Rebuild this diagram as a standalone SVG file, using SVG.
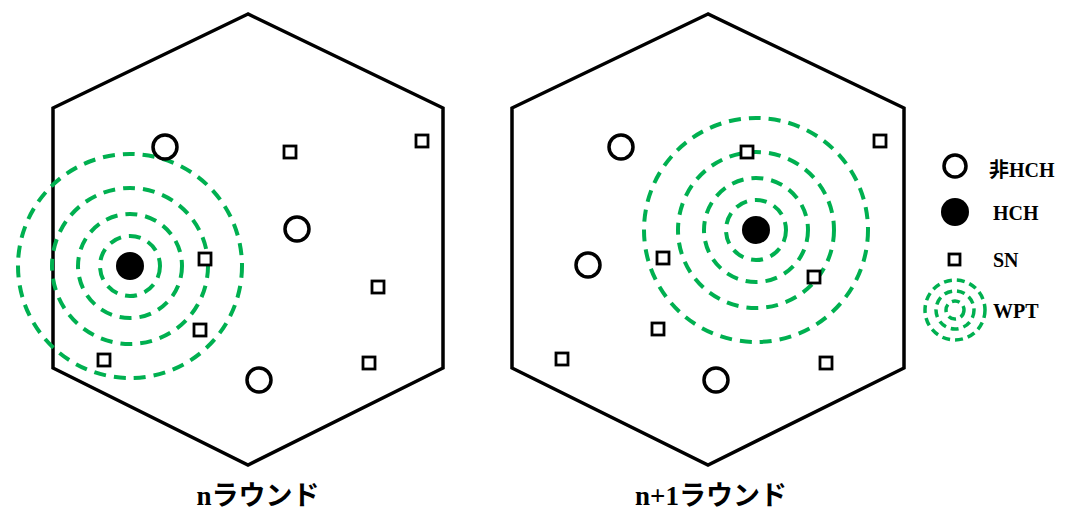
<svg xmlns="http://www.w3.org/2000/svg" width="1066" height="512" viewBox="0 0 1066 512">
<style>
.hex{fill:none;stroke:#000;stroke-width:3.5;stroke-linejoin:miter}
.nh{fill:#fff;stroke:#000;stroke-width:3.5}
.h{fill:#000}
.sn{fill:#fff;stroke:#000;stroke-width:2.8}
.w{fill:none;stroke:#00b050;stroke-width:4;stroke-dasharray:12 8}
.wl{fill:none;stroke:#00b050;stroke-width:3.5;stroke-dasharray:8 5}
.t{font-family:"Liberation Serif","Noto Sans CJK JP",serif;font-weight:bold;fill:#000}
</style>
<rect width="1066" height="512" fill="#fff"/>
<g id="panel-n">
<polygon class="hex" points="248,14 53,108 53,368 248,465 443,368 443,108"/>
<g id="wpt-n">
<circle class="w" cx="130" cy="266" r="30"/>
<circle class="w" cx="130" cy="266" r="52"/>
<circle class="w" cx="130" cy="266" r="78"/>
<circle class="w" cx="130" cy="266" r="112"/>
</g>
<circle id="hch-n" class="h" cx="130" cy="266" r="14"/>
<g id="nonhch-n">
<circle class="nh" cx="165" cy="147" r="12"/>
<circle class="nh" cx="297" cy="229" r="12"/>
<circle class="nh" cx="259" cy="380" r="12"/>
</g>
<g id="sn-n">
<rect class="sn" x="284" y="146" width="12" height="12"/>
<rect class="sn" x="416" y="135" width="12" height="12"/>
<rect class="sn" x="199" y="253" width="12" height="12"/>
<rect class="sn" x="372" y="281" width="12" height="12"/>
<rect class="sn" x="194" y="324" width="12" height="12"/>
<rect class="sn" x="98" y="354" width="12" height="12"/>
<rect class="sn" x="363" y="357" width="12" height="12"/>
</g>
<text class="t" x="258" y="505" font-size="27" text-anchor="middle">nラウンド</text>
</g>
<g id="panel-n1">
<polygon class="hex" points="708,14 512,108 512,368 708,465 904,368 904,108"/>
<g id="wpt-n1">
<circle class="w" cx="756" cy="230" r="30"/>
<circle class="w" cx="756" cy="230" r="52"/>
<circle class="w" cx="756" cy="230" r="78"/>
<circle class="w" cx="756" cy="230" r="112"/>
</g>
<circle id="hch-n1" class="h" cx="756" cy="230" r="14"/>
<g id="nonhch-n1">
<circle class="nh" cx="621" cy="147" r="12"/>
<circle class="nh" cx="588" cy="265" r="12"/>
<circle class="nh" cx="716" cy="380" r="12"/>
</g>
<g id="sn-n1">
<rect class="sn" x="741" y="146" width="12" height="12"/>
<rect class="sn" x="874" y="135" width="12" height="12"/>
<rect class="sn" x="657" y="252" width="12" height="12"/>
<rect class="sn" x="808" y="271" width="12" height="12"/>
<rect class="sn" x="652" y="323" width="12" height="12"/>
<rect class="sn" x="556" y="353" width="12" height="12"/>
<rect class="sn" x="820" y="357" width="12" height="12"/>
</g>
<text class="t" x="711" y="505" font-size="27" text-anchor="middle">n+1ラウンド</text>
</g>
<g id="legend">
<circle class="nh" cx="955" cy="166" r="11"/>
<text class="t" x="989" y="177" font-size="20">非HCH</text>
<circle class="h" cx="955" cy="212" r="14"/>
<text class="t" x="993" y="220" font-size="20">HCH</text>
<rect class="sn" x="949" y="254" width="11" height="11"/>
<text class="t" x="993" y="267" font-size="20">SN</text>
<circle class="wl" cx="955" cy="310" r="9"/>
<circle class="wl" cx="955" cy="310" r="19"/>
<circle class="wl" cx="955" cy="310" r="30"/>
<text class="t" x="993" y="318" font-size="20">WPT</text>
</g>
</svg>
